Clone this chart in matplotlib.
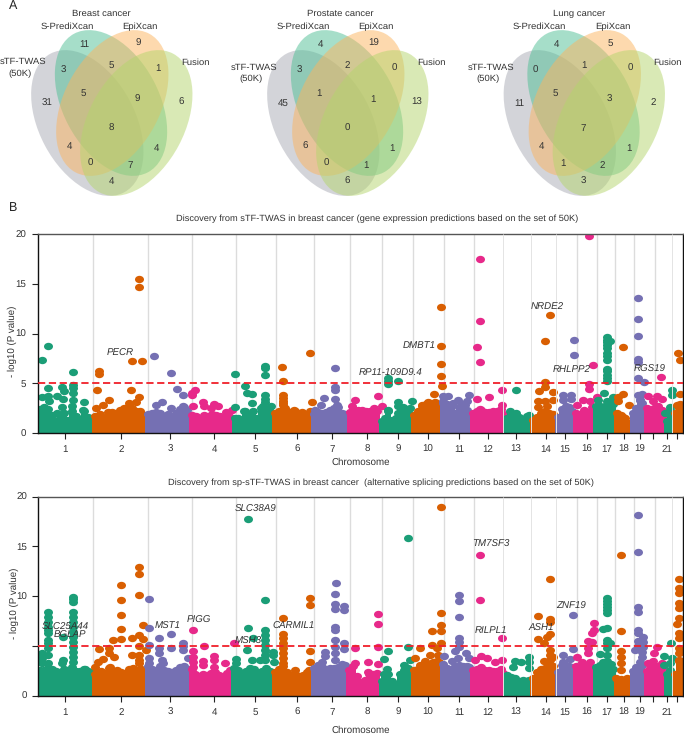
import numpy as np
import matplotlib
matplotlib.use('Agg')
import matplotlib.pyplot as plt
from matplotlib.patches import Ellipse
from matplotlib.path import Path
from matplotlib.transforms import Affine2D

plt.rcParams['font.family'] = ['Liberation Sans', 'DejaVu Sans']
plt.rcParams['text.hinting'] = 'no_hinting'

W, H = 684, 735
TXT = "#333333"

# ---- venn data
venn_titles = ["Breast cancer", "Prostate cancer", "Lung cancer"]
venn_title_x = [101, 340, 579]
venn_offsets = [0, 236, 472.5]
breast_counts = [31, 3, 11, 5, 5, 9, 1, 9, 6, 8, 4, 0, 7, 4, 4]
prostate_counts = [45, 3, 4, 1, 2, 19, 0, 1, 13, 0, 6, 0, 1, 1, 6]
lung_counts = [11, 0, 4, 5, 1, 5, 0, 3, 2, 7, 4, 1, 2, 1, 3]
count_x = [47, 63, 84, 83, 111, 138, 158, 137, 181, 111, 69, 90, 130, 156, 111]
count_y = [103, 70, 44, 93, 65, 43, 68, 99, 102, 128, 146, 163, 165, 148, 181]

ell_x = [87.3, 111.0, 112.3, 136.3]
ell_y = [123, 103, 103, 123]
ell_ang = [-28, -28, 28, 28]
ell_col = ["#a9aab4", "#4fbf95", "#fcb45e", "#b4d56c"]

# ---- chromosome layout
chrom_ticks = [65, 121, 170, 214, 255, 297, 332, 367, 398, 428, 459, 488, 516, 546, 565, 587, 607, 624, 640, 653, 667, 677]
chrom_labels = ["1", "2", "3", "4", "5", "6", "7", "8", "9", "10", "11", "12", "13", "14", "15", "16", "17", "18", "19", "", "21", ""]
grid_under = [93, 147.7, 192, 235.7, 275.7, 314, 350, 382, 413, 444, 474, 577, 597, 615, 634, 655]
grid_over = [503, 531, 556, 672]
dark2 = ["#1B9E77", "#D95F02", "#7570B3", "#E7298A"]

# ---- skyline of the dense low part, (position, height) per chromosome
sky1 = [
    [(40, 2.4), (44, 2.6), (48, 2.4), (52, 1.8), (56, 1.2), (60, 1.5), (64, 2.0), (68, 1.3), (72, 2.2), (76, 1.7), (80, 1.4), (84, 2.2), (88, 1.6), (91, 1.4)],
    [(95, 1.7), (100, 1.9), (104, 1.5), (108, 2.1), (112, 2.1), (116, 2.0), (120, 2.3), (124, 2.5), (128, 2.6), (132, 2.5), (136, 2.2), (140, 2.2), (144, 1.8)],
    [(148, 1.9), (152, 2.0), (156, 2.1), (160, 2.0), (164, 1.7), (168, 1.9), (172, 1.6), (176, 2.0), (180, 2.4), (184, 2.6), (187, 2.3)],
    [(192, 1.8), (196, 1.7), (200, 1.5), (204, 1.8), (208, 1.7), (212, 1.9), (216, 1.8), (220, 1.7), (224, 1.5), (228, 1.8), (230, 1.6)],
    [(235, 1.5), (238, 1.5), (241, 1.1), (245, 2.2), (249, 1.9), (253, 2.2), (257, 1.5), (261, 2.5), (265, 2.4), (269, 2.4), (271, 2.0)],
    [(275, 2.0), (279, 2.2), (283, 3.0), (287, 2.2), (291, 1.8), (295, 2.2), (299, 1.6), (303, 1.9), (307, 1.5), (309, 1.8)],
    [(314, 1.9), (318, 2.1), (322, 2.0), (326, 2.1), (330, 2.3), (334, 2.5), (338, 2.6), (342, 2.0), (345, 1.9)],
    [(350, 2.1), (354, 2.3), (358, 2.3), (362, 2.3), (366, 2.2), (370, 2.2), (374, 2.5), (377, 2.2)],
    [(382, 1.2), (385, 1.5), (388, 2.2), (392, 1.3), (396, 1.5), (400, 2.0), (404, 2.2), (408, 2.1)],
    [(414, 1.8), (418, 2.2), (422, 2.8), (426, 2.9), (430, 3.0), (433, 2.9), (437, 2.9), (439, 2.2)],
    [(443, 3.0), (447, 2.9), (451, 2.6), (455, 2.0), (459, 2.6), (463, 2.9), (467, 2.3), (469, 1.9)],
    [(473, 2.0), (477, 2.2), (481, 2.3), (485, 2.1), (489, 2.1), (493, 2.2), (497, 2.2), (501, 2.4), (503, 1.9)],
    [(507, 1.5), (511, 1.9), (515, 1.7), (519, 1.6), (523, 1.3), (527, 1.7), (529, 1.6)],
    [(533, 1.3), (537, 1.6), (541, 2.0), (545, 2.2), (549, 2.0), (553, 1.9)],
    [(558, 1.6), (562, 2.4), (566, 2.7), (569, 2.6), (572, 2.2)],
    [(576, 2.0), (580, 1.9), (584, 2.3), (588, 2.1), (592, 2.6)],
    [(596, 2.7), (600, 2.7), (603, 2.6), (607, 2.9), (611, 3.1), (613, 2.9)],
    [(617, 2.0), (621, 1.8), (625, 1.5), (628, 1.0)],
    [(633, 2.0), (636, 2.5), (640, 3.3), (642, 3.0)],
    [(647, 2.5), (650, 2.3), (654, 2.5), (658, 2.7), (662, 2.3), (663, 1.8)],
    [(667, 1.2), (670, 2.3)],
    [(675, 2.0), (679, 2.5), (682, 2.6)],
]
sky2 = [
    [(40, 2.6), (44, 2.6), (48, 3.3), (52, 2.7), (56, 2.5), (60, 2.4), (64, 2.7), (68, 2.6), (72, 2.9), (76, 2.5), (80, 2.5), (84, 2.7), (88, 2.5), (91, 2.4)],
    [(95, 2.2), (97, 2.4), (101, 2.5), (105, 2.3), (109, 2.8), (113, 2.5), (117, 2.6), (121, 2.4), (125, 2.3), (129, 2.7), (133, 2.8), (137, 2.6), (141, 2.7), (144, 2.6)],
    [(148, 3.0), (152, 2.7), (156, 2.6), (160, 3.0), (164, 2.6), (168, 2.5), (172, 2.4), (176, 2.6), (180, 2.9), (184, 3.0), (187, 2.7)],
    [(192, 2.7), (195, 2.2), (199, 2.0), (203, 2.2), (207, 2.1), (211, 2.3), (215, 2.4), (219, 2.1), (223, 2.0), (227, 2.3), (230, 2.6)],
    [(234, 2.8), (238, 2.6), (242, 2.2), (246, 2.5), (250, 2.8), (254, 2.7), (258, 2.3), (262, 2.5), (266, 2.8), (270, 2.5)],
    [(275, 2.4), (279, 2.7), (283, 3.0), (287, 2.4), (291, 2.1), (295, 2.2), (299, 2.0), (303, 2.1), (307, 2.2), (309, 2.6)],
    [(314, 2.8), (318, 2.7), (322, 2.9), (326, 2.7), (330, 2.8), (334, 2.8), (338, 2.9), (342, 3.2), (345, 3.1)],
    [(349, 2.6), (353, 3.0), (357, 2.0), (361, 1.4), (365, 1.6), (369, 2.2), (373, 2.2), (377, 2.3)],
    [(382, 1.5), (384, 2.2), (388, 2.2), (392, 1.5), (396, 1.2), (400, 2.2), (404, 2.6), (408, 2.8)],
    [(414, 2.6), (418, 2.7), (422, 2.8), (425, 3.0), (429, 3.1), (433, 3.4), (437, 3.5), (439, 3.4)],
    [(443, 3.2), (447, 2.8), (451, 2.6), (455, 3.0), (459, 3.1), (463, 3.0), (467, 3.0), (469, 2.9)],
    [(473, 2.6), (477, 2.7), (481, 2.9), (485, 2.6), (489, 2.6), (493, 2.5), (497, 2.5), (501, 2.7), (503, 2.3)],
    [(507, 2.1), (511, 1.9), (515, 1.8), (519, 1.5), (523, 1.6), (527, 1.5), (529, 1.6)],
    [(533, 1.8), (537, 2.4), (541, 2.7), (545, 2.8), (549, 3.0), (553, 3.0)],
    [(558, 2.4), (562, 3.1), (566, 3.1), (569, 3.0), (572, 2.5)],
    [(576, 3.0), (580, 2.9), (584, 3.0), (588, 3.0), (592, 2.8)],
    [(596, 2.9), (600, 3.1), (603, 3.4), (607, 3.5), (611, 3.2), (613, 2.7)],
    [(617, 1.7), (621, 1.7), (625, 1.6), (628, 1.6)],
    [(633, 2.5), (636, 2.9), (640, 3.4), (642, 3.1)],
    [(647, 2.5), (650, 2.8), (654, 2.9), (658, 3.0), (662, 2.8), (663, 2.2)],
    [(667, 2.2), (670, 2.6)],
    [(675, 2.2), (679, 3.5), (682, 3.5)],
]

# ---- individual points above the skyline
hits1 = [
    [(41.7, 7.37), (48, 8.71), (72.7, 6.16), (72.7, 4.86), (72.7, 4.5), (72.7, 4.02), (72.7, 3.35), (72, 2.68), (47.7, 4.49), (47.7, 3.75), (41.7, 3.62), (48.7, 3.18), (57.3, 3.69), (62, 4.62), (64.3, 4.19), (63.3, 3.42), (62, 2.58), (84, 3.08), (83.3, 2.35), (57.3, 2.0)],
    [(138.7, 15.5), (138.7, 14.64), (131.7, 7.27), (142, 7.27), (99, 6.26), (99, 5.96), (97.3, 4.29), (131.3, 4.36), (138.7, 3.65), (136, 3.12), (109, 3.32), (102.7, 2.81), (95.7, 2.55), (129.3, 3.0)],
    [(154, 7.7), (170.7, 6.03), (177, 4.46), (183, 3.85), (162.3, 3.15), (156, 2.78), (170.7, 2.55), (182.7, 2.75)],
    [(195.3, 4.32), (192.3, 4.02), (192.3, 3.79), (192.7, 2.75), (203.3, 3.12), (203.7, 2.75), (214, 2.91), (218.3, 2.75), (211.3, 2.51), (226, 2.08), (232, 2.3)],
    [(235.3, 5.96), (265, 6.77), (265, 6.53), (265, 5.83), (245, 4.76), (246.7, 4.05), (251.7, 3.95), (265, 3.85), (265, 3.45), (265, 3.1), (251.7, 2.98), (235.3, 2.58), (263.3, 2.75), (270.7, 2.68), (244.3, 2.24)],
    [(282, 6.6), (282.7, 5.26), (310, 8.04), (312, 3.12), (282.7, 3.85), (282.7, 3.5), (282.7, 3.18), (282.7, 2.85), (285, 2.5), (294, 2.28), (301.7, 2.1), (310, 2.24)],
    [(335.3, 6.5), (335.3, 4.62), (335.3, 4.32), (335.3, 3.42), (324.3, 3.48), (320.7, 2.85), (315, 2.28), (336.7, 2.85)],
    [(355, 3.32), (351.7, 2.75), (377.7, 3.72), (382.3, 2.75)],
    [(387.7, 5.53), (387.7, 5.26), (387.7, 4.96), (398.3, 5.26), (387.7, 2.28), (398.3, 3.15), (398.3, 2.75), (403.3, 2.61), (411.7, 3.25), (410, 2.5), (398.3, 2.0)],
    [(441.3, 12.66), (441, 8.78), (441.3, 6.93), (441.3, 5.76), (442, 4.69), (434.3, 3.95), (428.3, 3.12), (421.7, 2.68), (435, 3.12)],
    [(469.3, 3.82), (448.3, 3.72), (443.3, 3.72), (458.3, 3.35), (443.3, 3.2), (466.7, 3.18), (453.3, 3.0), (465, 2.85)],
    [(480.3, 17.49), (480.3, 11.26), (477.3, 8.61), (480.3, 7.14), (477.3, 3.45), (488.7, 3.62), (501.7, 4.36), (480.3, 2.45), (501.7, 2.78)],
    [(515.7, 4.32), (510, 2.18), (516, 2.0), (529, 1.78)],
    [(550.3, 11.83), (545.3, 9.28), (545.3, 5.13), (545.3, 4.66), (539, 4.22), (553.3, 4.15), (538.3, 3.18), (545.3, 3.25), (553.3, 3.28), (538.3, 2.61), (546.7, 2.68)],
    [(574.3, 9.38), (574.3, 7.87), (563.3, 3.79), (571, 3.85), (563.3, 3.35), (571, 3.45)],
    [(588.7, 19.83), (593, 6.83), (588.7, 4.92), (588.7, 4.46), (583.3, 3.35), (577.3, 2.81), (590, 3.18), (597.3, 3.6)],
    [(607, 9.61), (607, 9.38), (607, 9.15), (607, 8.88), (607, 8.54), (607, 8.04), (607, 7.7), (607, 7.37), (607, 6.47), (607, 6.2), (607, 5.86), (607, 5.53), (607, 5.19), (610, 9.2), (604, 4.05), (598.3, 3.35), (613.3, 3.62), (607, 3.18)],
    [(623, 8.61), (623, 3.95), (618.3, 3.58), (618.3, 3.18), (629.3, 2.78), (623.3, 1.6)],
    [(638, 13.57), (638, 11.42), (638, 9.72), (638, 7.44), (638, 7.14), (638, 5.53), (644, 5.09), (641.7, 3.95), (638.3, 3.85), (640, 3.35)],
    [(661.3, 5.63), (648.3, 3.75), (656.7, 3.68), (661.7, 3.42), (653.3, 3.18)],
    [(671.7, 4.32), (671.7, 3.85), (670, 2.58), (665, 2.0)],
    [(678.3, 8.0), (680, 7.3), (680, 3.95), (680, 2.95), (676.7, 2.85)],
]
hits2 = [
    [(48.3, 8.44), (48.3, 7.94), (48.3, 7.44), (48.3, 6.93), (48.3, 6.6), (48.3, 6.26), (48.3, 5.6), (48.3, 5.26), (48.3, 4.76), (48.3, 4.09), (72.7, 9.95), (72.7, 9.68), (72.7, 9.41), (72.7, 8.44), (72.7, 7.94), (72.7, 7.44), (72.7, 6.93), (72.7, 6.43), (72.7, 5.93), (72.7, 5.43), (72.7, 4.92), (72.7, 4.42), (72.7, 3.92), (72.7, 3.42), (63.3, 5.86), (42.3, 4.25), (42.3, 3.75), (42.3, 3.25), (63.3, 3.58), (61.7, 3.25), (85, 2.68)],
    [(139, 12.93), (139, 12.26), (139, 10.15), (120.7, 11.09), (120.7, 9.65), (120.7, 8.07), (120.7, 6.7), (120.7, 5.66), (113.3, 5.63), (142.7, 7.07), (139, 6.13), (132.3, 5.8), (142.7, 5.73), (139, 5.03), (99, 4.69), (109, 4.79), (109, 4.25), (114, 3.92), (132.3, 4.09), (139, 4.09), (145.7, 4.56), (139, 3.58), (139, 3.25), (102.7, 3.69), (98.3, 3.42), (95, 2.91), (110, 2.91)],
    [(149, 9.75), (149, 6.8), (170.7, 6.23), (159.3, 5.83), (149, 5.13), (170.7, 4.82), (183.3, 5.33), (183.3, 5.03), (183.3, 4.56), (159.3, 4.76), (159.3, 4.25), (149, 3.75), (149, 3.25), (161.7, 3.58), (188.3, 3.82), (163.3, 3.25)],
    [(192.7, 6.63), (203.7, 4.99), (192.7, 4.49), (192.7, 3.92), (192.7, 3.42), (192.7, 2.91), (214, 4.02), (214, 3.58), (203.3, 3.52), (203.3, 3.08), (225, 3.25), (214, 2.91), (234, 5.29)],
    [(248, 17.72), (248, 6.77), (253.3, 5.83), (247, 4.56), (265.3, 9.65), (265.3, 6.6), (265.3, 6.1), (265.3, 5.6), (265.3, 5.09), (265.3, 4.59), (265.3, 4.09), (265.3, 3.58), (273.3, 4.42), (273.3, 4.09), (274.3, 3.42), (260, 3.58), (251.7, 3.58), (236, 3.65), (236, 3.25)],
    [(282.7, 7.77), (310.3, 9.78), (310.3, 9.08), (282.7, 6.2), (282.7, 5.76), (282.7, 5.26), (282.7, 4.76), (282.7, 4.25), (282.7, 3.75), (282.7, 3.25), (310.3, 4.49), (310.3, 3.35), (295, 2.58), (306.7, 2.35)],
    [(335.7, 11.32), (335.3, 10.18), (335.3, 9.18), (335.3, 8.74), (344, 9.05), (344, 8.58), (335.3, 6.93), (335.3, 6.6), (335.3, 5.6), (335.3, 4.92), (344, 5.33), (344, 4.69), (325, 4.36), (325, 4.02), (321.7, 3.42), (318.3, 3.08), (335.3, 4.25), (335.3, 3.58)],
    [(378.3, 8.17), (378.3, 7.24), (378.3, 4.86), (355, 4.76), (368.3, 3.35), (377.7, 3.22), (355, 3.25), (368.3, 2.41)],
    [(407.7, 15.85), (407.7, 4.89), (388.3, 4.49), (384.3, 3.69), (386.7, 2.68), (404.3, 3.08), (410, 3.58)],
    [(441.3, 18.96), (441, 8.27), (441, 7.14), (441, 6.5), (432, 6.5), (432, 5.09), (441, 5.26), (436.7, 4.76), (420, 4.82), (415, 3.75), (420, 3.08), (425, 3.52), (430, 4.09), (438.3, 4.09)],
    [(459.3, 10.12), (459.3, 9.51), (459.3, 7.91), (459.3, 5.76), (459.3, 5.43), (459.3, 4.92), (455, 4.49), (465.7, 4.25), (444.3, 4.02), (451.7, 3.52), (458.3, 3.75), (469, 3.75)],
    [(480, 14.1), (480, 9.61), (501.7, 5.83), (481, 3.99), (475, 3.58), (486.7, 3.75), (495, 3.42), (502.3, 3.58), (495, 2.41)],
    [(528.7, 3.85), (528.7, 3.42), (528.7, 2.75), (515, 3.48), (520.7, 3.38), (513.3, 2.91)],
    [(550, 11.73), (537.7, 8.0), (549.7, 7.7), (549.7, 7.44), (550, 6.2), (546.7, 5.93), (537.7, 5.66), (544.3, 5.26), (550, 4.59), (550, 4.09), (550, 3.58), (544.3, 3.52), (553.3, 3.92)],
    [(573.3, 8.11), (573.3, 4.69), (562.7, 4.09), (570, 3.69), (563.3, 3.42)],
    [(594.3, 7.27), (594.3, 6.57), (591.7, 6.26), (587.7, 5.46), (592.3, 5.43), (587.7, 4.82), (588.3, 4.32), (577.3, 3.85), (581.7, 3.42), (590, 3.42)],
    [(606.7, 9.78), (606.7, 9.5), (606.7, 9.2), (606.7, 8.9), (606.7, 8.6), (606.7, 8.3), (606.7, 6.77), (603.3, 6.73), (606.7, 5.6), (606.7, 5.26), (610, 5.26), (606.7, 4.76), (600, 4.19), (606.7, 4.09)],
    [(621, 14.17), (621, 6.53), (621, 4.52), (621, 3.92), (621, 3.25), (621, 2.58), (616, 1.74), (626.7, 1.74)],
    [(637.7, 18.19), (637.7, 14.4), (637.7, 8.94), (637.7, 8.37), (637.7, 6.6), (637.7, 6.26), (642.7, 5.93), (637.7, 5.53), (642.7, 5.43), (637.7, 5.03), (635, 4.56), (642.7, 4.92), (641.7, 4.42), (641.7, 3.92)],
    [(657.3, 4.89), (654.3, 4.25), (653.3, 3.52), (648.3, 3.25), (661.7, 3.32)],
    [(671, 5.29), (664.3, 3.95), (671.7, 3.82), (664.3, 3.08), (670, 3.25)],
    [(679.3, 11.73), (679.3, 10.79), (679.3, 10.28), (679.3, 9.28), (679.3, 8.78), (679.3, 7.77), (676.7, 7.24), (679.3, 6.26), (679.3, 5.83), (679.3, 4.76), (679.3, 4.25), (679.3, 3.58)],
]

genes1 = ["PECR", "DMBT1", "RP11-109D9.4", "NRDE2", "RHLPP2", "RGS19"]
genes1_x = [120.3, 419.3, 391, 547, 571.7, 649.7]
genes1_y = [8.04, 8.78, 6.03, 12.7, 6.43, 6.37]
genes2 = ["SLC25A44", "BGLAP", "MST1", "PIGG", "MSH3", "SLC38A9", "CARMIL1", "TM7SF3", "RILPL1", "ASH1", "ZNF19"]
genes2_x = [65.7, 69.7, 167.7, 199, 248, 255.7, 293.3, 490.7, 491.3, 541.7, 571]
genes2_y = [6.87, 6.1, 6.93, 7.6, 5.49, 18.73, 6.93, 15.18, 6.6, 6.8, 8.94]

fig = plt.figure(figsize=(W / 100, H / 100), dpi=100, facecolor="white")

# ---- panel A
va = fig.add_axes([0, 0, 1, 1], zorder=1)
va.set_xlim(0, W)
va.set_ylim(H, 0)
va.axis("off")

all_counts = [breast_counts, prostate_counts, lung_counts]
for p, off in enumerate(venn_offsets):
    for k in range(4):
        va.add_patch(Ellipse((ell_x[k] + off, ell_y[k]), 96, 157, angle=ell_ang[k],
                             facecolor=ell_col[k], edgecolor="none", alpha=0.5))
    for x, y, c in zip(count_x, count_y, all_counts[p]):
        va.text(x + off, y, str(c), fontsize=7, color=TXT, ha="center", va="center")
    va.text(venn_title_x[p], 14, venn_titles[p], fontsize=6.8, color=TXT, ha="center", va="center")
    va.text(67 + off, 27, "S-PrediXcan", fontsize=6.8, color=TXT, ha="center", va="center")
    va.text(140 + off, 27, "EpiXcan", fontsize=6.8, color=TXT, ha="center", va="center")
    va.text(195 + off, 63, "Fusion", fontsize=6.8, color=TXT, ha="center", va="center")
    tw_x = 23.5 if p == 0 else 22.3 + off - 4
    tw_y = 62 if p == 0 else 67.7
    va.text(tw_x, tw_y, "sTF-TWAS", fontsize=6.8, color=TXT, ha="center", va="center")
    va.text(tw_x - 3, tw_y + 11.5, "(50K)", fontsize=6.8, color=TXT, ha="center", va="center")

va.text(13, 6, "A", fontsize=9, color="#222222", ha="center", va="center")
va.text(13, 208, "B", fontsize=9, color="#222222", ha="center", va="center")

# slightly flattened dots, like the stretched original
dot = Path.unit_circle().transformed(Affine2D().scale(1.0, 0.82))


def manhattan(top, bottom, left, right, sky, hits, genes, genes_x, genes_y, hide5):
    ax = fig.add_axes([left / W, 1 - bottom / H, (right - left) / W, (bottom - top) / H], zorder=2)
    ax.patch.set_alpha(0)
    ax.set_xlim(left, right)
    ax.set_ylim(0, 20)
    ax.vlines(grid_under, 0, 20, color="#dcdcdc", lw=1, zorder=1)

    for i in range(22):
        col = dark2[i % 4]
        sx = np.array([s[0] for s in sky[i]])
        sy = np.array([s[1] for s in sky[i]])
        hx = np.array([h[0] for h in hits[i]])
        hy = np.array([h[1] for h in hits[i]])
        z = 2 + i * 0.01
        ax.bar(sx, sy, width=5.4, color=col, linewidth=0, zorder=z)
        ax.scatter(sx, sy, s=42, marker=dot, color=col, linewidths=0, zorder=z)
        ax.scatter(hx, hy, s=42, marker=dot, color=col, linewidths=0, zorder=z)

    ax.vlines(grid_over, 0, 20, color="#e4e4e4", lw=0.7, zorder=3)
    ax.axhline(5, color="#f0202a", lw=1.3, ls=(0, (4, 2)), zorder=4)

    for g, x, y in zip(genes, genes_x, genes_y):
        ax.text(x, y, g, fontsize=7, style="italic", color=TXT, ha="center", va="center", zorder=5)

    ax.set_xticks(chrom_ticks)
    ax.set_xticklabels(chrom_labels)
    ax.set_yticks([0, 5, 10, 15, 20])
    ax.set_yticklabels(["0", "" if hide5 else "5", "10", "15", "20"])
    ax.tick_params(axis="both", length=4, width=0.8, labelsize=7, labelcolor=TXT, pad=4, color="#222222")
    # baseline alignment keeps the digit rows level
    ax.tick_params(axis="x", pad=9.7)
    for lab in ax.get_xticklabels():
        lab.set_va("baseline")
    for s in ["left", "bottom", "right"]:
        ax.spines[s].set_linewidth(1.0)
        ax.spines[s].set_color("#111111")
    ax.spines["top"].set_linewidth(1.0)
    ax.spines["top"].set_color("#555555")
    return ax


manhattan(234, 433, 37.5, 683, sky1, hits1, genes1, genes1_x, genes1_y, False)
manhattan(496.7, 695.7, 38, 682.7, sky2, hits2, genes2, genes2_x, genes2_y, True)

va.text(377, 218.7, "Discovery from sTF-TWAS in breast cancer (gene expression predictions based on the set of 50K)",
        fontsize=6.7, color=TXT, ha="center", va="center")
va.text(380.7, 483, "Discovery from sp-sTF-TWAS in breast cancer  (alternative splicing predictions based on the set of 50K)",
        fontsize=6.7, color=TXT, ha="center", va="center")
va.text(361, 462, "Chromosome", fontsize=7, color=TXT, ha="center", va="center")
va.text(361, 730, "Chromosome", fontsize=7, color=TXT, ha="center", va="center")
va.text(12, 341, "- log10 (P value)", fontsize=7, color=TXT, rotation=90, ha="center", va="center")
va.text(14, 603, "- log10 (P value)", fontsize=7, color=TXT, rotation=90, ha="center", va="center")

plt.savefig("out.png", dpi=100)
plt.close()
